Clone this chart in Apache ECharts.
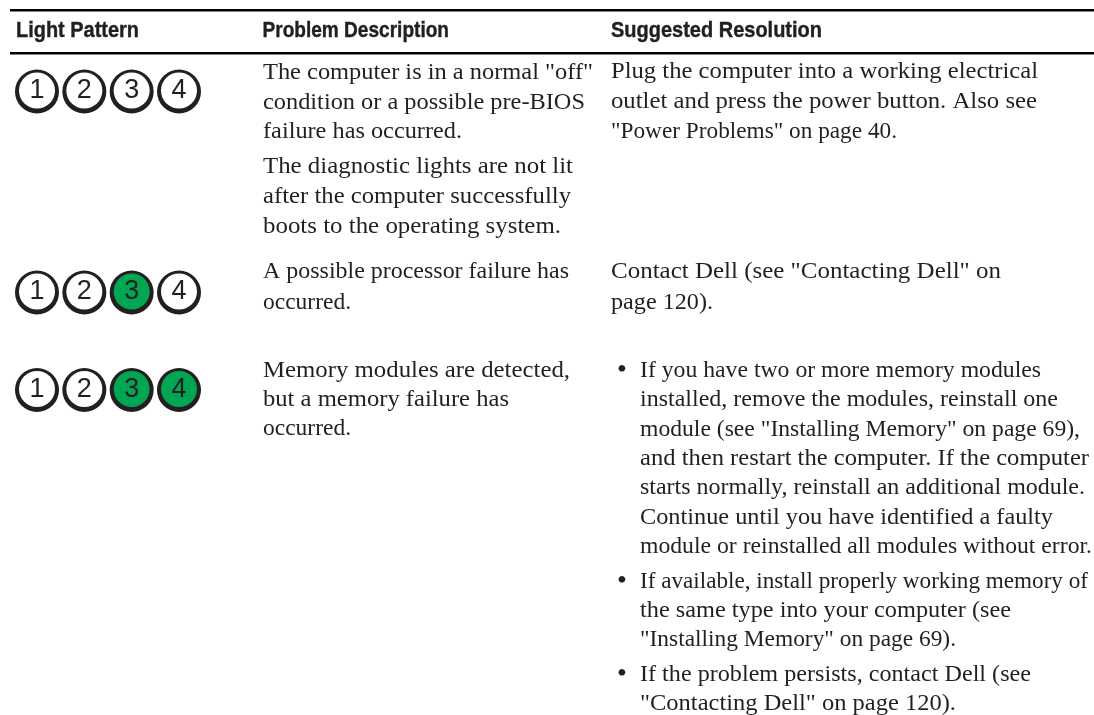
<!DOCTYPE html>
<html><head><meta charset="utf-8">
<style>html,body{margin:0;padding:0;background:#fff}#c{width:1094px;height:715px}</style>
<script src="https://cdn.jsdelivr.net/npm/echarts@6/dist/echarts.min.js"></script>
</head><body><div id="c"></div>
<script>
const lightNames = ['1','2','3','4'];
const row1Lights = [0,0,0,0];
const row2Lights = [0,0,1,0];
const row3Lights = [0,0,1,1];
const headers = ['Light Pattern','Problem Description','Suggested Resolution'];
const problemLines = [
 'The computer is in a normal "off"','condition or a possible pre-BIOS','failure has occurred.',
 'The diagnostic lights are not lit','after the computer successfully','boots to the operating system.',
 'A possible processor failure has','occurred.',
 'Memory modules are detected,','but a memory failure has','occurred.'];
const resolutionLines = [
 'Plug the computer into a working electrical','outlet and press the power button. Also see','"Power Problems" on page 40.',
 'Contact Dell (see "Contacting Dell" on','page 120).'];
const bulletLines = [
 'If you have two or more memory modules','installed, remove the modules, reinstall one','module (see "Installing Memory" on page 69),','and then restart the computer. If the computer','starts normally, reinstall an additional module.','Continue until you have identified a faulty','module or reinstalled all modules without error.',
 'If available, install properly working memory of','the same type into your computer (see','"Installing Memory" on page 69).',
 'If the problem persists, contact Dell (see','"Contacting Dell" on page 120).'];

// layout (not data)
const rowY = [91.5,292.5,390];
const problemBase = [79,109,138,173,203,233,278,309,377,406,435];
const problemEnd = [593,585,462,573,571,561,569,351,570,509,351];
const resolutionBase = [78,108,138,278,309];
const resolutionEnd = [1038,1037,897,1001,713];
const bulletBase = [377,406,436,465,494,524,553,588,617,646,681,710];
const bulletEnd = [1041,1058,1080,1089,1085,1053,1092,1088,1011,956,1031,956];
const bulletMarks = [377,588,681];
const headerX = [16,262.5,611];
const headerEnd = [139,449,822];
const ink = '#231f20', green = '#00a651';
const serif = '24px "Liberation Serif"';
const head = 'bold 22px "Liberation Sans"';

const rows = [row1Lights,row2Lights,row3Lights];
const pts = [];
rows.forEach((r,i)=>r.forEach((s,j)=>pts.push({value:[lightNames[j],rowY[i]],on:s})));

const ctx = document.createElement('canvas').getContext('2d');
const gfx = [];
function txt(s,x,base,font,end,heavy){
  ctx.font = font;
  const scale = end ? (end-x)/ctx.measureText(s).width : 1;
  gfx.push({type:'text',x:x,y:base-6,scaleX:scale,silent:true,
    style:{text:s,x:0,y:0,font:font,fill:ink,verticalAlign:'middle',align:'left',
      stroke:heavy?ink:null,lineWidth:heavy?0.4:0}});
}
function rule(y,h){gfx.push({type:'rect',silent:true,shape:{x:10,y:y,width:1084,height:h},style:{fill:'#000'}});}
rule(9,2.4); rule(52,2.4);
headers.forEach((s,i)=>txt(s,headerX[i],36.5,head,headerEnd[i],true));
problemLines.forEach((s,i)=>txt(s,263,problemBase[i],serif,problemEnd[i]));
resolutionLines.forEach((s,i)=>txt(s,611,resolutionBase[i],serif,resolutionEnd[i]));
bulletLines.forEach((s,i)=>txt(s,640,bulletBase[i],serif,bulletEnd[i]));
bulletMarks.forEach(b=>txt('\u2022',617,b,'28px "Liberation Serif"'));

const chart = echarts.init(document.getElementById('c'),null,{renderer:'canvas'});
chart.setOption({
  animation:false,
  backgroundColor:'#fff',
  grid:{left:13.33,width:189.33,top:0,height:715},
  xAxis:{type:'category',data:lightNames,show:false},
  yAxis:{type:'value',min:0,max:715,inverse:true,show:false},
  series:[
   {type:'scatter',symbol:'circle',symbolSize:44,silent:true,z:2,
    itemStyle:{color:ink,opacity:1},data:pts.map(p=>p.value)},
   {type:'scatter',symbol:'circle',symbolSize:36,symbolOffset:[0,-1],silent:true,z:3,
    data:pts.map(p=>({value:p.value,itemStyle:{color:p.on?green:'#fff',opacity:1}})),
    label:{show:true,position:'inside',offset:[0,0.5],formatter:p=>p.value[0],
      color:ink,fontFamily:'Liberation Sans',fontSize:27}}
  ],
  graphic:{elements:gfx}
});
</script></body></html>
